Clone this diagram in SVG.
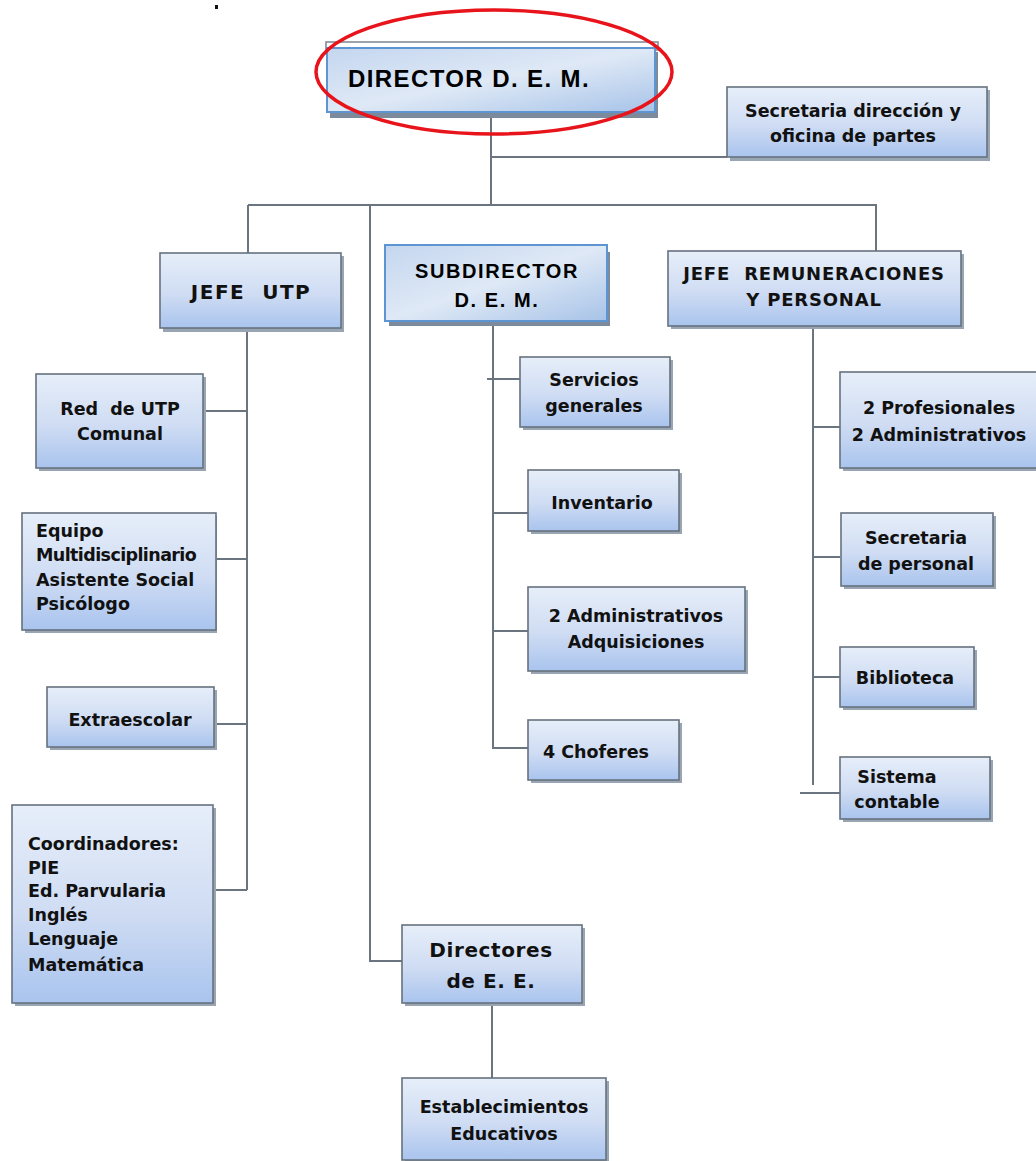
<svg xmlns="http://www.w3.org/2000/svg" width="1036" height="1161" viewBox="0 0 1036 1161">
<defs>
<linearGradient id="g" x1="0" y1="0" x2="0" y2="1">
<stop offset="0" stop-color="#e6eef9"/>
<stop offset="0.55" stop-color="#cfdcf3"/>
<stop offset="1" stop-color="#a9c4ee"/>
</linearGradient>
<linearGradient id="g2" x1="0" y1="0" x2="1" y2="1">
<stop offset="0" stop-color="#c4d6ef"/>
<stop offset="0.5" stop-color="#dfe9f6"/>
<stop offset="1" stop-color="#a7c3e8"/>
</linearGradient>
<style>
.box{fill:url(#g);stroke:#66727e;stroke-width:1.6}
.sh{fill:#9aa5b3}
.hbox{fill:url(#g2);stroke:#5c95d2;stroke-width:2}
.hsh{fill:#7d8a9c}
.ln{stroke:#6b7580;stroke-width:2;fill:none}
.t{font-family:"DejaVu Sans",sans-serif;font-weight:bold;font-size:17.5px;fill:#111;text-anchor:middle}
.tl{text-anchor:start}
.big{font-family:"Liberation Sans",Arial,sans-serif;font-weight:bold;fill:#000}
</style>
</defs>
<rect width="1036" height="1161" fill="#fff"/>
<rect x="215" y="5" width="3" height="4" fill="#111"/>

<g id="connectors">
<path class="ln" d="M491 118 V205 M491 157 H727 M248 205 H876 V251 M248 205 V253 M370 205 V961 H402"/>
<path class="ln" d="M247 328 V890 M203 411 H247 M216 559 H247 M214 724 H247 M213 890 H247"/>
<path class="ln" d="M493 325 V748 H528 M487 379 H520 M493 513 H528 M493 631 H528"/>
<path class="ln" d="M813 326 V785 M813 427 H840 M813 557 H840 M813 677 H840 M800 793 H840"/>
<path class="ln" d="M492 1003 V1078"/>
</g>

<g id="director">
<rect x="330" y="52" width="328" height="66" class="hsh"/>
<rect x="326" y="42" width="332" height="8" fill="none" stroke="#7b8591" stroke-width="1.5"/>
<rect x="327" y="48" width="328" height="64" class="hbox"/>
<text x="348" y="87" class="big" style="font-size:24px" letter-spacing="1.4">DIRECTOR D. E. M.</text>
<ellipse cx="494" cy="72" rx="178" ry="62" fill="none" stroke="#e8141b" stroke-width="3.5"/>
</g>

<g id="secretaria-direccion">
<rect x="730" y="90" width="260" height="71" class="sh"/>
<rect x="727" y="87" width="260" height="70" class="box"/>
<text x="853" y="117" class="t">Secretaria dirección y</text>
<text x="853" y="142" class="t">oficina de partes</text>
</g>

<g id="jefe-utp">
<rect x="163" y="256" width="181" height="76" class="sh"/>
<rect x="160" y="253" width="181" height="75" class="box"/>
<text x="251" y="299" class="t" style="font-size:20px" letter-spacing="1.5">JEFE&#160; UTP</text>
</g>

<g id="subdirector">
<rect x="389" y="252" width="221" height="74" class="hsh"/>
<rect x="385" y="245" width="222" height="76" class="hbox"/>
<text x="497" y="278" class="big" style="font-size:20px" text-anchor="middle" letter-spacing="1.6">SUBDIRECTOR</text>
<text x="497" y="307" class="big" style="font-size:20px" text-anchor="middle" letter-spacing="1.6">D. E. M.</text>
</g>

<g id="jefe-remuneraciones">
<rect x="671" y="254" width="293" height="75" class="sh"/>
<rect x="668" y="251" width="293" height="75" class="box"/>
<text x="814" y="280" class="t" style="font-size:18px" letter-spacing="0.8">JEFE&#160; REMUNERACIONES</text>
<text x="814" y="306" class="t" style="font-size:18px" letter-spacing="0.8">Y PERSONAL</text>
</g>

<g id="red-utp">
<rect x="39" y="377" width="167" height="94" class="sh"/>
<rect x="36" y="374" width="167" height="94" class="box"/>
<text x="120" y="415" class="t">Red&#160; de UTP</text>
<text x="120" y="440" class="t">Comunal</text>
</g>

<g id="equipo">
<rect x="25" y="516" width="192" height="117" class="sh"/>
<rect x="22" y="513" width="194" height="117" class="box"/>
<text x="36" y="537" class="t tl">Equipo</text>
<text x="36" y="561" class="t tl" letter-spacing="-0.6">Multidisciplinario</text>
<text x="36" y="586" class="t tl">Asistente Social</text>
<text x="36" y="610" class="t tl">Psicólogo</text>
</g>

<g id="extraescolar">
<rect x="50" y="690" width="167" height="60" class="sh"/>
<rect x="47" y="687" width="167" height="60" class="box"/>
<text x="130" y="726" class="t">Extraescolar</text>
</g>

<g id="coordinadores">
<rect x="15" y="808" width="201" height="198" class="sh"/>
<rect x="12" y="805" width="201" height="198" class="box"/>
<text x="28" y="850" class="t tl">Coordinadores:</text>
<text x="28" y="874" class="t tl">PIE</text>
<text x="28" y="897" class="t tl">Ed. Parvularia</text>
<text x="28" y="921" class="t tl">Inglés</text>
<text x="28" y="945" class="t tl">Lenguaje</text>
<text x="28" y="971" class="t tl">Matemática</text>
</g>

<g id="servicios">
<rect x="523" y="360" width="150" height="70" class="sh"/>
<rect x="520" y="357" width="150" height="70" class="box"/>
<text x="594" y="386" class="t">Servicios</text>
<text x="594" y="412" class="t">generales</text>
</g>

<g id="inventario">
<rect x="531" y="473" width="151" height="61" class="sh"/>
<rect x="528" y="470" width="151" height="61" class="box"/>
<text x="602" y="509" class="t">Inventario</text>
</g>

<g id="administrativos-adq">
<rect x="531" y="590" width="217" height="84" class="sh"/>
<rect x="528" y="587" width="217" height="84" class="box"/>
<text x="636" y="622" class="t">2 Administrativos</text>
<text x="636" y="648" class="t">Adquisiciones</text>
</g>

<g id="choferes">
<rect x="531" y="723" width="151" height="60" class="sh"/>
<rect x="528" y="720" width="151" height="60" class="box"/>
<text x="596" y="758" class="t">4 Choferes</text>
</g>

<g id="profesionales">
<rect x="843" y="375" width="196" height="96" class="sh"/>
<rect x="840" y="372" width="200" height="96" class="box"/>
<text x="939" y="414" class="t">2 Profesionales</text>
<text x="939" y="441" class="t">2 Administrativos</text>
</g>

<g id="secretaria-personal">
<rect x="844" y="516" width="152" height="73" class="sh"/>
<rect x="841" y="513" width="152" height="73" class="box"/>
<text x="916" y="544" class="t">Secretaria</text>
<text x="916" y="570" class="t">de personal</text>
</g>

<g id="biblioteca">
<rect x="843" y="650" width="134" height="60" class="sh"/>
<rect x="840" y="647" width="134" height="60" class="box"/>
<text x="905" y="684" class="t">Biblioteca</text>
</g>

<g id="sistema-contable">
<rect x="843" y="760" width="150" height="62" class="sh"/>
<rect x="840" y="757" width="150" height="62" class="box"/>
<text x="897" y="783" class="t">Sistema</text>
<text x="897" y="808" class="t">contable</text>
</g>

<g id="directores-ee">
<rect x="405" y="928" width="180" height="78" class="sh"/>
<rect x="402" y="925" width="180" height="78" class="box"/>
<text x="491" y="957" class="t" style="font-size:20px" letter-spacing="0.6">Directores</text>
<text x="491" y="988" class="t" style="font-size:20px" letter-spacing="0.6">de E. E.</text>
</g>

<g id="establecimientos">
<rect x="405" y="1081" width="204" height="82" class="sh"/>
<rect x="402" y="1078" width="204" height="82" class="box"/>
<text x="504" y="1113" class="t">Establecimientos</text>
<text x="504" y="1140" class="t">Educativos</text>
</g>
</svg>
